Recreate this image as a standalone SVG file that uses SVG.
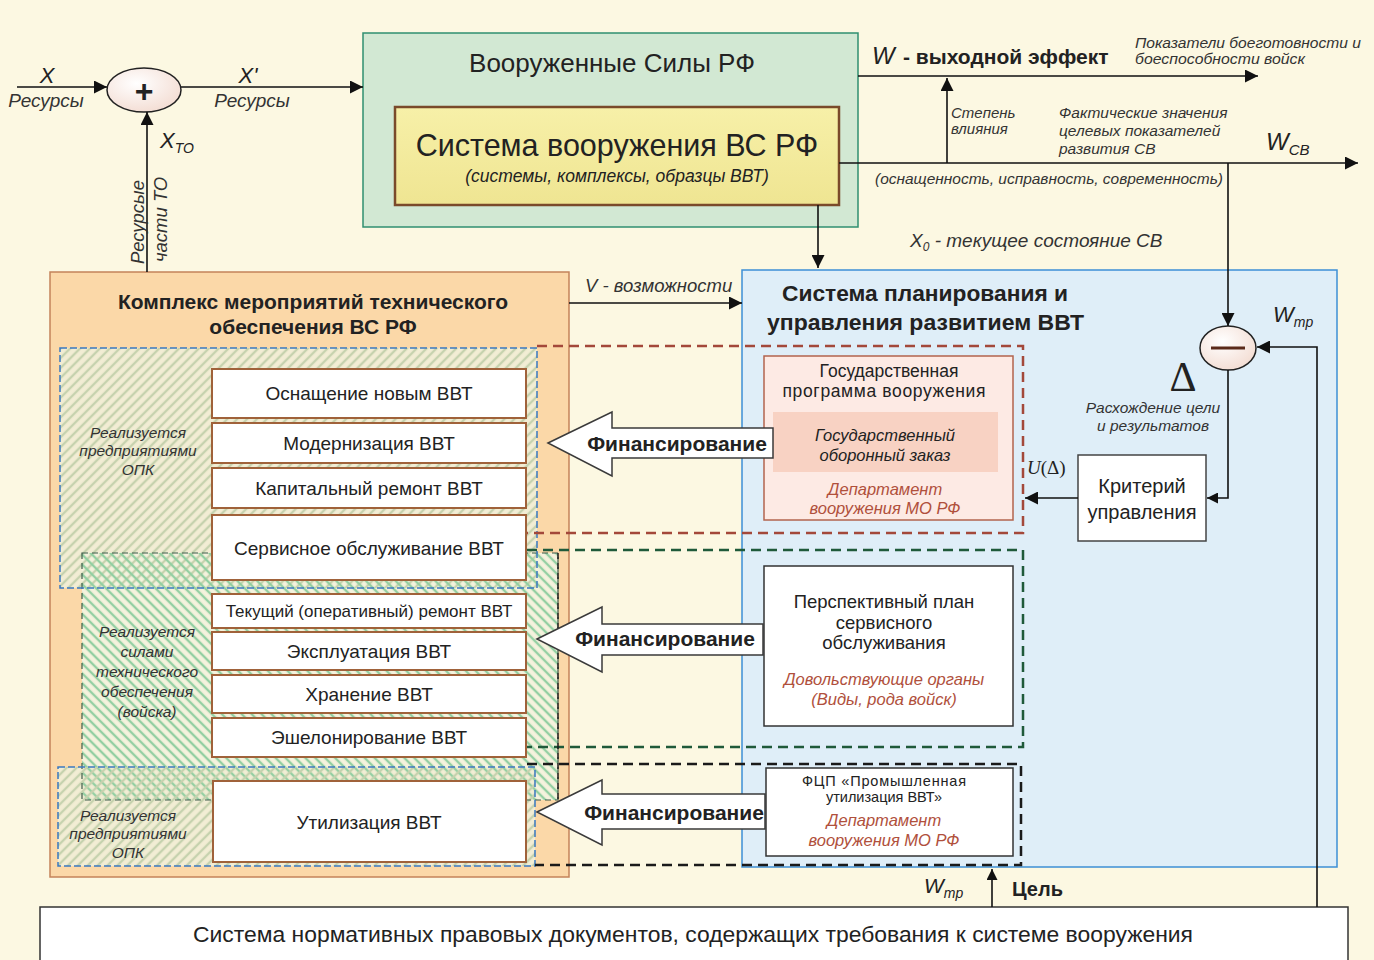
<svg xmlns="http://www.w3.org/2000/svg" width="1374" height="960" viewBox="0 0 1374 960">
<style>
text{font-family:"Liberation Sans",Arial,sans-serif;fill:#222}
.i{font-style:italic}
.b{font-weight:bold}
.c{text-anchor:middle}
.lbl{fill:#333;font-style:italic}
.red{fill:#b0503c;font-style:italic}
.item{fill:#fff;stroke:#a0623a;stroke-width:2}
.ln{fill:none;stroke:#111;stroke-width:1.6}
.arr{fill:#fff;stroke:#3a3a3a;stroke-width:1.5}
.serif{font-family:"Liberation Serif","Times New Roman",serif}
</style>
<defs>
<marker id="ah" viewBox="0 0 10 10" refX="10" refY="5" markerWidth="17" markerHeight="13" markerUnits="userSpaceOnUse" orient="auto"><path d="M0,0 L10,5 L0,10 z" fill="#111"/></marker>
<marker id="as" viewBox="0 0 10 10" refX="10" refY="5" markerWidth="13" markerHeight="11" markerUnits="userSpaceOnUse" orient="auto"><path d="M0,0 L10,5 L0,10 z" fill="#111"/></marker>
<pattern id="hA" width="7" height="7" patternUnits="userSpaceOnUse" patternTransform="rotate(45)"><line x1="2" y1="0" x2="2" y2="7" stroke="#c6d2ae" stroke-width="2.4"/></pattern>
<pattern id="hB" width="7" height="7" patternUnits="userSpaceOnUse" patternTransform="rotate(-45)"><line x1="2" y1="0" x2="2" y2="7" stroke="#93cfa2" stroke-width="2.4"/></pattern>
<radialGradient id="eg" cx="0.4" cy="0.35" r="0.7"><stop offset="0" stop-color="#ffffff"/><stop offset="1" stop-color="#f3dcd2"/></radialGradient>
<linearGradient id="yg" x1="0" y1="0" x2="0" y2="1"><stop offset="0" stop-color="#f7f0a8"/><stop offset="1" stop-color="#efe592"/></linearGradient>
</defs>
<rect x="0" y="0" width="1374" height="960" fill="#fcf8e2"/>

<g id="armed-forces">
<rect x="363" y="33" width="495" height="194" fill="#d2e8d3" stroke="#2f8f70" stroke-width="1.5"/>
<text x="612" y="72" class="c" font-size="26">Вооруженные Силы РФ</text>
</g>
<g id="weapon-system">
<rect x="395" y="107" width="444" height="98" fill="url(#yg)" stroke="#7a4a2a" stroke-width="2.5"/>
<text x="617" y="156" class="c" font-size="30.5">Система вооружения ВС РФ</text>
<text x="617" y="182" class="c i" font-size="17.5" fill="#333">(системы, комплексы, образцы ВВТ)</text>
</g>

<g id="sum">
<ellipse cx="144" cy="90" rx="37" ry="22" fill="url(#eg)" stroke="#222" stroke-width="1.5"/>
<text x="144" y="102" class="c b" font-size="32">+</text>
</g>

<g id="tech-support">
<rect x="50" y="272" width="519" height="605" fill="#fbd8a8" stroke="#c4835a" stroke-width="1.5"/>
<text x="313" y="309" class="c b" font-size="21">Комплекс мероприятий  технического</text>
<text x="313" y="334" class="c b" font-size="21">обеспечения ВС РФ</text>
</g>

<g id="regions">
<rect x="60" y="348" width="477" height="240" fill="#f2edd4"/>
<rect x="82" y="553" width="476" height="247" fill="#f5f2dd"/>
<rect x="58" y="767" width="477" height="99" fill="#f2edd4"/>
<rect x="60" y="348" width="477" height="240" fill="url(#hA)"/>
<rect x="82" y="553" width="476" height="247" fill="url(#hB)"/>
<rect x="58" y="767" width="477" height="99" fill="url(#hA)"/>
<rect x="82" y="553" width="476" height="247" fill="none" stroke="#3d5a4a" stroke-width="1.2" stroke-dasharray="6 4"/>
<rect x="60" y="348" width="477" height="240" fill="none" stroke="#3a78c0" stroke-width="1.5" stroke-dasharray="7 3"/>
<rect x="58" y="767" width="477" height="99" fill="none" stroke="#3a78c0" stroke-width="1.5" stroke-dasharray="7 3"/>
<text x="138" y="438" class="c lbl" font-size="15.5">Реализуется</text>
<text x="138" y="456" class="c lbl" font-size="15.5">предприятиями</text>
<text x="138" y="475" class="c lbl" font-size="15.5">ОПК</text>
<text x="147" y="637" class="c lbl" font-size="15.5">Реализуется</text>
<text x="147" y="657" class="c lbl" font-size="15.5">силами</text>
<text x="147" y="677" class="c lbl" font-size="15.5">технического</text>
<text x="147" y="697" class="c lbl" font-size="15.5">обеспечения</text>
<text x="147" y="717" class="c lbl" font-size="15.5">(войска)</text>
<text x="128" y="821" class="c lbl" font-size="15.5">Реализуется</text>
<text x="128" y="839" class="c lbl" font-size="15.5">предприятиями</text>
<text x="128" y="858" class="c lbl" font-size="15.5">ОПК</text>
</g>

<g id="item-new"><rect class="item" x="212" y="369" width="314" height="49"/><text x="369" y="400" class="c" font-size="19">Оснащение новым ВВТ</text></g>
<g id="item-modern"><rect class="item" x="212" y="423" width="314" height="40"/><text x="369" y="450" class="c" font-size="19">Модернизация ВВТ</text></g>
<g id="item-capital"><rect class="item" x="212" y="468" width="314" height="40"/><text x="369" y="495" class="c" font-size="19">Капитальный ремонт ВВТ</text></g>
<g id="item-service"><rect class="item" x="212" y="515" width="314" height="65"/><text x="369" y="555" class="c" font-size="19">Сервисное обслуживание  ВВТ</text></g>
<g id="item-current"><rect class="item" x="212" y="594" width="314" height="34"/><text x="369" y="617" class="c" font-size="17">Текущий (оперативный)  ремонт ВВТ</text></g>
<g id="item-exploit"><rect class="item" x="212" y="632" width="314" height="38"/><text x="369" y="658" class="c" font-size="19">Эксплуатация ВВТ</text></g>
<g id="item-storage"><rect class="item" x="212" y="675" width="314" height="38"/><text x="369" y="701" class="c" font-size="19">Хранение ВВТ</text></g>
<g id="item-echelon"><rect class="item" x="212" y="718" width="314" height="39"/><text x="369" y="744" class="c" font-size="19">Эшелонирование  ВВТ</text></g>
<g id="item-util"><rect class="item" x="213" y="781" width="313" height="81"/><text x="369" y="829" class="c" font-size="19">Утилизация ВВТ</text></g>

<g id="planning-system">
<rect x="742" y="270" width="595" height="597" fill="#dfeef8" stroke="#3d8fd6" stroke-width="1.5"/>
<text x="782" y="301" class="b" font-size="22" textLength="286" lengthAdjust="spacingAndGlyphs">Система планирования и</text>
<text x="767" y="330" class="b" font-size="22" textLength="317" lengthAdjust="spacingAndGlyphs">управления развитием ВВТ</text>
</g>

<g id="state-program">
<rect x="764" y="356" width="249" height="164" fill="#fdeae4" stroke="#b2644e" stroke-width="1.5"/>
<text x="889" y="377" class="c" font-size="17.5">Государственная</text>
<text x="884" y="397" class="c" font-size="17.5" textLength="203">программа  вооружения</text>
<rect x="773" y="412" width="225" height="60" fill="#f8d2c3"/>
<text x="885" y="441" class="c i" font-size="16.5" fill="#555">Государственный</text>
<text x="885" y="461" class="c i" font-size="16.5" fill="#555">оборонный  заказ</text>
<text x="885" y="495" class="c red" font-size="16.5">Департамент</text>
<text x="885" y="514" class="c red" font-size="16.5">вооружения  МО  РФ</text>
</g>

<g id="service-plan">
<rect x="764" y="566" width="249" height="160" fill="#fff" stroke="#333" stroke-width="1.5"/>
<text x="884" y="608" class="c" font-size="18.5">Перспективный план</text>
<text x="884" y="629" class="c" font-size="18.5">сервисного</text>
<text x="884" y="649" class="c" font-size="18.5">обслуживания</text>
<text x="884" y="685" class="c red" font-size="16.5">Довольствующие  органы</text>
<text x="884" y="705" class="c red" font-size="16.5">(Виды, рода войск)</text>
</g>

<g id="fcp">
<rect x="766" y="768" width="247" height="88" fill="#fff" stroke="#333" stroke-width="1.5"/>
<text x="884" y="786" class="c" font-size="14.5" textLength="164">ФЦП «Промышленная</text>
<text x="884" y="802" class="c" font-size="14.5">утилизация ВВТ»</text>
<text x="884" y="826" class="c red" font-size="16.5">Департамент</text>
<text x="884" y="846" class="c red" font-size="16.5">вооружения  МО  РФ</text>
</g>

<g id="minus">
<ellipse cx="1228" cy="348" rx="28" ry="22" fill="url(#eg)" stroke="#222" stroke-width="1.5"/>
<line x1="1211" y1="348" x2="1245" y2="348" stroke="#5a2a1a" stroke-width="3"/>
</g>

<g id="criterion">
<rect x="1078" y="455" width="128" height="86" fill="#fff" stroke="#444" stroke-width="1.5"/>
<text x="1142" y="493" class="c" font-size="20">Критерий</text>
<text x="1142" y="519" class="c" font-size="20">управления</text>
</g>

<g id="norm-docs">
<rect x="40" y="907" width="1308" height="60" fill="#fff" stroke="#333" stroke-width="1.5"/>
<text x="693" y="942" class="c" font-size="22" textLength="1000" lengthAdjust="spacingAndGlyphs">Система нормативных правовых документов, содержащих требования к системе вооружения</text>
</g>

<g id="connectors">
<path d="M537,346 H1023 V533 H527" fill="none" stroke="#a3483a" stroke-width="2.5" stroke-dasharray="10 6"/>
<path d="M527,550 H1023 V747 H527" fill="none" stroke="#1f5a3a" stroke-width="2.5" stroke-dasharray="10 6"/>
<path d="M527,764 H1021 V865 H535" fill="none" stroke="#1a1a1a" stroke-width="2.5" stroke-dasharray="10 6"/>
<line x1="558" y1="553" x2="558" y2="800" stroke="#1a1a1a" stroke-width="1.5" stroke-dasharray="6 4"/>

<line class="ln" x1="17" y1="87" x2="107" y2="87" marker-end="url(#ah)"/>
<line class="ln" x1="181" y1="87" x2="363" y2="87" marker-end="url(#ah)"/>
<line class="ln" x1="147" y1="272" x2="147" y2="112" marker-end="url(#ah)"/>
<line class="ln" x1="858" y1="76" x2="1258" y2="76" marker-end="url(#ah)"/>
<line class="ln" x1="947" y1="163" x2="947" y2="78" marker-end="url(#ah)"/>
<line class="ln" x1="839" y1="163" x2="1358" y2="163" marker-end="url(#ah)"/>
<line class="ln" x1="1228" y1="163" x2="1228" y2="326" marker-end="url(#ah)"/>
<line class="ln" x1="818" y1="205" x2="818" y2="268" marker-end="url(#ah)"/>
<line class="ln" x1="569" y1="303" x2="742" y2="303" marker-end="url(#ah)"/>
<path class="ln" d="M1228,370 V498 H1207" marker-end="url(#as)"/>
<line class="ln" x1="1078" y1="498" x2="1025" y2="498" marker-end="url(#ah)"/>
<path class="ln" d="M1317,907 V347 H1257" marker-end="url(#ah)"/>
<line class="ln" x1="992" y1="907" x2="992" y2="869" marker-end="url(#as)"/>

<path class="arr" d="M548,443 L612,412 L612,428 L773,428 L773,458 L612,458 L612,476 Z"/>
<text x="677" y="451" class="c b" font-size="21">Финансирование</text>
<path class="arr" d="M537,639 L602,607 L602,624 L763,624 L763,655 L602,655 L602,672 Z"/>
<text x="665" y="646" class="c b" font-size="21">Финансирование</text>
<path class="arr" d="M537,812 L602,780 L602,794 L765,794 L765,829 L602,829 L602,845 Z"/>
<text x="674" y="820" class="c b" font-size="21">Финансирование</text>
</g>

<g id="labels">
<text x="47" y="83" class="c i" font-size="22">X</text>
<text x="46" y="107" class="c lbl" font-size="19">Ресурсы</text>
<text x="248" y="83" class="c i" font-size="22">X'</text>
<text x="252" y="107" class="c lbl" font-size="19">Ресурсы</text>
<text x="160" y="148" class="i" font-size="22">X<tspan font-size="14" dy="5">TO</tspan></text>
<text transform="translate(144,264) rotate(-90)" class="lbl" font-size="18.5">Ресурсые</text>
<text transform="translate(167,262) rotate(-90)" class="lbl" font-size="18.5">части ТО</text>

<text x="872" y="64" class="i" font-size="24">W</text>
<text x="903" y="64" class="b" font-size="21">- выходной эффект</text>
<text x="1135" y="48" class="lbl" font-size="15" textLength="226" lengthAdjust="spacingAndGlyphs">Показатели боеготовности и</text>
<text x="1135" y="64" class="lbl" font-size="15" textLength="170" lengthAdjust="spacingAndGlyphs">боеспособности войск</text>
<text x="951" y="118" class="lbl" font-size="15">Степень</text>
<text x="951" y="134" class="lbl" font-size="15">влияния</text>
<text x="1059" y="118" class="lbl" font-size="15.5">Фактические значения</text>
<text x="1059" y="136" class="lbl" font-size="15.5">целевых показателей</text>
<text x="1059" y="154" class="lbl" font-size="15.5">развития СВ</text>
<text x="1266" y="150" class="i" font-size="24">W<tspan font-size="15" dy="5">CB</tspan></text>
<text x="875" y="184" class="lbl" font-size="15.5" textLength="348" lengthAdjust="spacingAndGlyphs">(оснащенность, исправность, современность)</text>
<text x="910" y="247" class="lbl" font-size="19">X<tspan font-size="12" dy="4">0</tspan><tspan dy="-4"> - текущее состояние СВ</tspan></text>
<text x="585" y="292" class="lbl" font-size="18.5">V - возможности</text>
<text x="1273" y="322" class="i" font-size="22">W<tspan font-size="14" dy="5">mp</tspan></text>
<text x="1183" y="391" class="c serif" font-size="42">Δ</text>
<text x="1153" y="413" class="c lbl" font-size="15.5">Расхождение цели</text>
<text x="1153" y="431" class="c lbl" font-size="15.5">и результатов</text>
<text x="1027" y="474" class="serif" font-size="19"><tspan font-style="italic">U</tspan>(Δ)</text>
<text x="924" y="893" class="i" font-size="21">W<tspan font-size="14" dy="5">mp</tspan></text>
<text x="1012" y="896" class="b" font-size="20">Цель</text>
</g>
</svg>
